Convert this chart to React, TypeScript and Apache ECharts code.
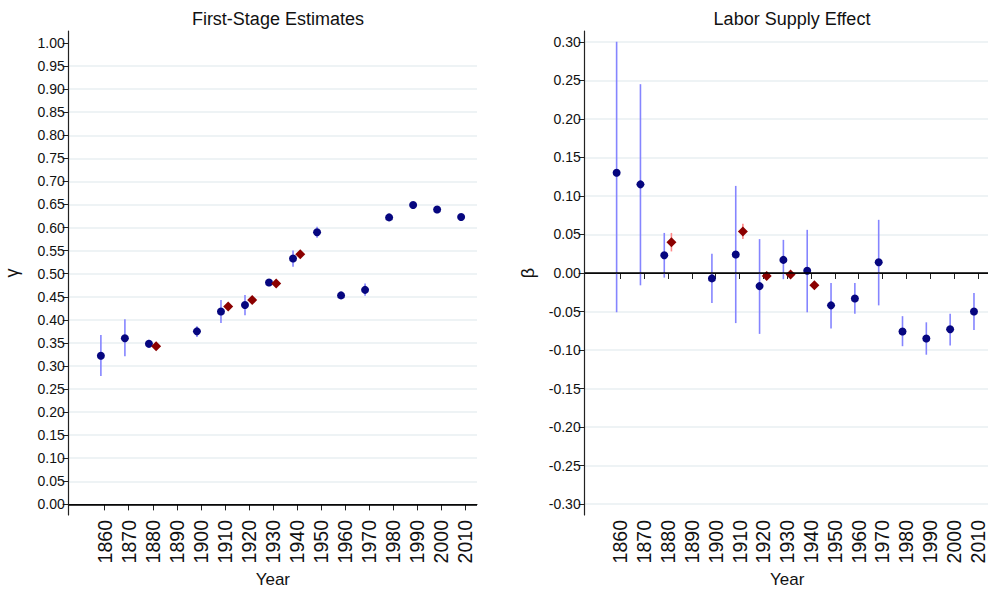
import React, { useEffect, useRef } from "react";
import * as echarts from "echarts";

// ---------- data ----------
const years = [1860, 1870, 1880, 1900, 1910, 1920, 1930, 1940, 1950, 1960, 1970, 1980, 1990, 2000, 2010];
const altYears = [1880, 1910, 1920, 1930, 1940];

// First-stage estimates (gamma)
const gammaEst = [0.322, 0.36, 0.348, 0.375, 0.418, 0.432, 0.481, 0.533, 0.59, 0.453, 0.465, 0.622, 0.649, 0.639, 0.623];
const gammaLo = [0.278, 0.321, 0.339, 0.363, 0.393, 0.41, 0.475, 0.515, 0.578, 0.447, 0.452, 0.616, 0.643, 0.633, 0.617];
const gammaHi = [0.367, 0.401, 0.357, 0.386, 0.443, 0.454, 0.487, 0.55, 0.602, 0.459, 0.479, 0.628, 0.655, 0.645, 0.629];
const gammaAltEst = [0.343, 0.429, 0.443, 0.479, 0.542];
const gammaAltLo = [0.338, 0.424, 0.438, 0.474, 0.537];
const gammaAltHi = [0.348, 0.434, 0.448, 0.484, 0.547];

// Labor supply effect (beta)
const betaEst = [0.13, 0.115, 0.023, -0.007, 0.024, -0.017, 0.017, 0.003, -0.042, -0.033, 0.014, -0.076, -0.085, -0.073, -0.05];
const betaLo = [-0.051, -0.016, -0.006, -0.039, -0.065, -0.079, -0.008, -0.051, -0.072, -0.053, -0.042, -0.095, -0.106, -0.094, -0.074];
const betaHi = [0.3, 0.245, 0.052, 0.025, 0.113, 0.044, 0.043, 0.056, -0.013, -0.013, 0.069, -0.056, -0.064, -0.053, -0.026];
const betaAltEst = [0.04, 0.054, -0.004, -0.002, -0.016];
const betaAltLo = [0.028, 0.044, -0.009, -0.006, -0.02];
const betaAltHi = [0.052, 0.064, 0.001, 0.002, -0.012];

// ticks
const xTicks = [1860, 1870, 1880, 1890, 1900, 1910, 1920, 1930, 1940, 1950, 1960, 1970, 1980, 1990, 2000, 2010];
const gammaTicks = [0, 0.05, 0.1, 0.15, 0.2, 0.25, 0.3, 0.35, 0.4, 0.45, 0.5, 0.55, 0.6, 0.65, 0.7, 0.75, 0.8, 0.85, 0.9, 0.95, 1.0];
const betaTicks = [-0.3, -0.25, -0.2, -0.15, -0.1, -0.05, 0, 0.05, 0.1, 0.15, 0.2, 0.25, 0.3];

const titles = ["First-Stage Estimates", "Labor Supply Effect"];
const yNames = ["γ", "β"];
const xName = "Year";

// ---------- styling ----------
const FONT = "'Liberation Sans', Arial, Helvetica, sans-serif";
const DOT = "#06067f";
const DIAMOND = "#8b0000";
const CI_BLUE = "#8585ff";
const CI_RED = "#ff8a8a";
const GRID = "#e8eff2";
const AXIS = "#222222";
const DOT_SHIFT = -1.6;
const ALT_SHIFT = 1.4;

function ciData(ys: number[], lo: number[], hi: number[], shift: number) {
  return ys.map((y, i) => [y + shift, lo[i], hi[i]]);
}
function ptData(ys: number[], v: number[], shift: number) {
  return ys.map((y, i) => [y + shift, v[i]]);
}

function ciSeries(idx: number, data: number[][], color: string, withZero: boolean) {
  const s: any = {
    type: "custom",
    xAxisIndex: idx,
    yAxisIndex: idx,
    z: 2,
    silent: true,
    encode: { x: 0, y: [1, 2] },
    data,
    renderItem: (params: any, api: any) => {
      const p1 = api.coord([api.value(0), api.value(1)]);
      const p2 = api.coord([api.value(0), api.value(2)]);
      return {
        type: "line",
        shape: { x1: p1[0], y1: p1[1], x2: p2[0], y2: p2[1] },
        style: { stroke: color, lineWidth: 1.6 },
      };
    },
  };
  if (withZero) {
    s.markLine = {
      silent: true,
      symbol: ["none", "none"],
      label: { show: false },
      lineStyle: { color: "#000", width: 1.5, type: "solid" },
      data: [{ yAxis: 0 }],
    };
  }
  return s;
}

function scatterSeries(idx: number, data: number[][], symbol: string, size: number, color: string) {
  return {
    type: "scatter",
    xAxisIndex: idx,
    yAxisIndex: idx,
    z: 4,
    symbol,
    symbolSize: size,
    itemStyle: { color, opacity: 1 },
    data,
  };
}

function xAxisCfg(idx: number) {
  return {
    type: "value",
    gridIndex: idx,
    min: 1845,
    max: 2015,
    name: xName,
    nameLocation: "middle",
    nameGap: 56,
    nameTextStyle: { fontSize: 17, color: "#111", fontFamily: FONT },
    axisLine: { show: true, lineStyle: { color: AXIS, width: 1.2 } },
    axisTick: { show: true, customValues: xTicks, length: 6, lineStyle: { color: AXIS, width: 1 } },
    axisLabel: {
      show: true,
      customValues: xTicks,
      rotate: 90,
      fontSize: 19.5,
      margin: 5,
      color: "#111",
      fontFamily: FONT,
      formatter: (v: number) => String(v),
    },
    splitLine: { show: false },
  };
}

function yAxisCfg(idx: number, min: number, max: number, ticks: number[], name: string, gridColors: string[] | string) {
  return {
    type: "value",
    gridIndex: idx,
    min,
    max,
    name,
    nameLocation: "middle",
    nameGap: 48,
    nameRotate: 90,
    nameTextStyle: { fontSize: 18, color: "#111", fontFamily: FONT },
    axisLine: { show: true, lineStyle: { color: AXIS, width: 1.2 } },
    axisTick: { show: true, customValues: ticks, length: 6, lineStyle: { color: AXIS, width: 1 } },
    axisLabel: {
      show: true,
      customValues: ticks,
      fontSize: 14,
      margin: 4,
      color: "#111",
      fontFamily: FONT,
      formatter: (v: number) => v.toFixed(2),
    },
    splitLine: { show: true, lineStyle: { color: gridColors, width: 1.5 } },
  };
}

export default function App() {
  const ref = useRef<HTMLDivElement>(null);

  useEffect(() => {
    if (!ref.current) return;
    const chart = echarts.init(ref.current, null, { renderer: "svg", width: 988, height: 589 });

    const leftGridColors = gammaTicks.map((t) => (t >= 1 ? "transparent" : GRID));

    const option: any = {
      animation: false,
      backgroundColor: "#ffffff",
      textStyle: { fontFamily: FONT },
      title: [
        {
          text: titles[0],
          left: 272.9,
          top: 5,
          textAlign: "center",
          textStyle: { fontSize: 18, fontWeight: "normal", color: "#111", fontFamily: FONT },
        },
        {
          text: titles[1],
          left: 787,
          top: 5,
          textAlign: "center",
          textStyle: { fontSize: 18, fontWeight: "normal", color: "#111", fontFamily: FONT },
        },
      ],
      grid: [
        { left: 68.7, top: 31, width: 408.3, height: 484, containLabel: false, outerBoundsMode: "none" },
        { left: 584.7, top: 31, width: 405, height: 484, containLabel: false, outerBoundsMode: "none" },
      ],
      xAxis: [xAxisCfg(0), xAxisCfg(1)],
      yAxis: [
        yAxisCfg(0, -0.023, 1.026, gammaTicks, yNames[0], leftGridColors),
        yAxisCfg(1, -0.314, 0.314, betaTicks, yNames[1], GRID),
      ],
      series: [
        ciSeries(0, ciData(years, gammaLo, gammaHi, DOT_SHIFT), CI_BLUE, true),
        ciSeries(0, ciData(altYears, gammaAltLo, gammaAltHi, ALT_SHIFT), CI_RED, false),
        scatterSeries(0, ptData(years, gammaEst, DOT_SHIFT), "circle", 8, DOT),
        scatterSeries(0, ptData(altYears, gammaAltEst, ALT_SHIFT), "diamond", 10, DIAMOND),
        ciSeries(1, ciData(years, betaLo, betaHi, DOT_SHIFT), CI_BLUE, true),
        ciSeries(1, ciData(altYears, betaAltLo, betaAltHi, ALT_SHIFT), CI_RED, false),
        scatterSeries(1, ptData(years, betaEst, DOT_SHIFT), "circle", 8, DOT),
        scatterSeries(1, ptData(altYears, betaAltEst, ALT_SHIFT), "diamond", 10, DIAMOND),
      ],
    };

    chart.setOption(option);
    return () => chart.dispose();
  }, []);

  return (
    <div
      ref={ref}
      style={{ position: "absolute", left: 0, top: 0, width: 988, height: 589, background: "#fff" }}
    />
  );
}
